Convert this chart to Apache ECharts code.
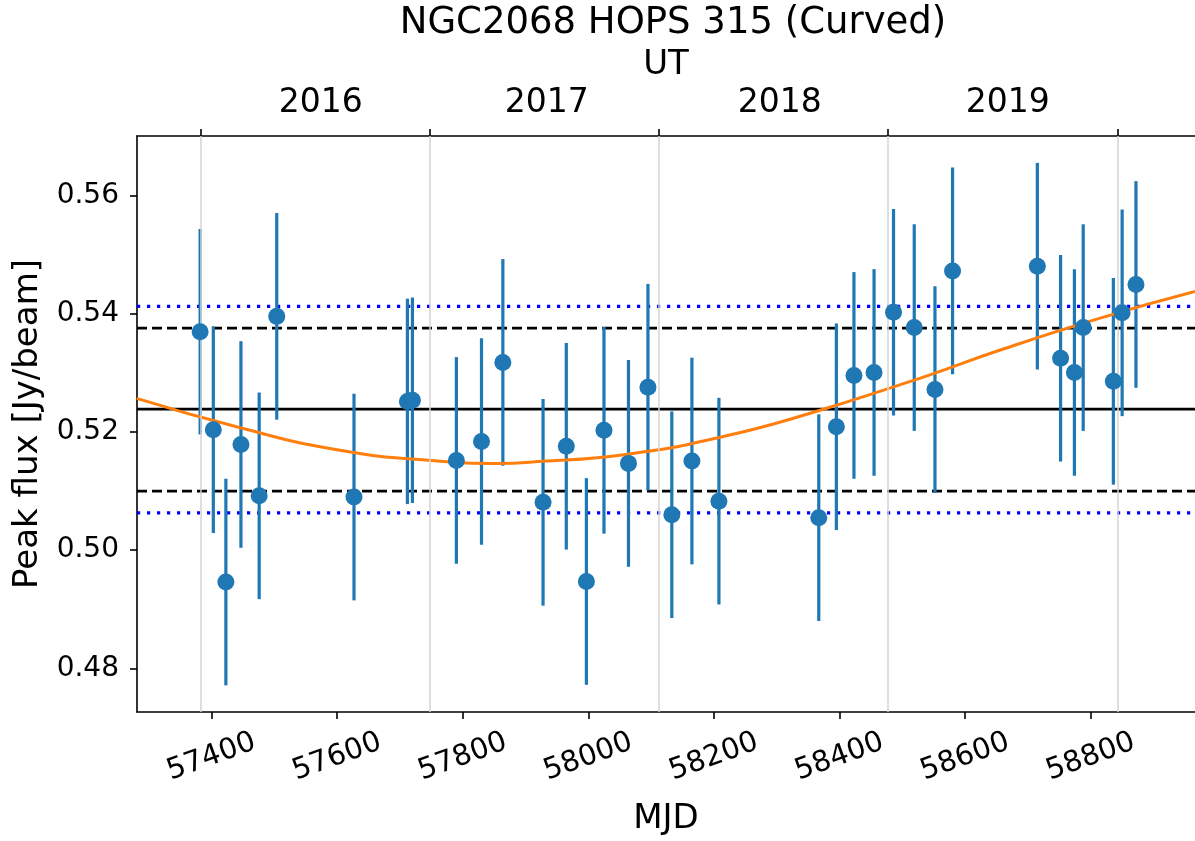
<!DOCTYPE html>
<html>
<head>
<meta charset="utf-8">
<script src="https://cdn.jsdelivr.net/npm/echarts@6/dist/echarts.min.js"></script>
<style>
html,body{margin:0;padding:0;background:#fff;}
#chart{width:1195px;height:841px;}
</style>
</head>
<body>
<div id="chart"></div>
<script>
// ---- data ----
const mjd = [57382, 57403, 57423, 57447, 57476, 57504, 57627, 57712, 57720, 57790, 57830, 57864, 57928, 57965, 57997, 58025, 58064, 58095, 58133, 58165, 58208, 58367, 58395, 58423, 58455, 58486, 58519, 58552, 58580, 58715, 58752, 58774, 58788, 58836, 58850, 58872];
const peakFlux = [0.5370, 0.5204, 0.4946, 0.5179, 0.5092, 0.5396, 0.5090, 0.5252, 0.5254, 0.5152, 0.5184, 0.5318, 0.5081, 0.5176, 0.4947, 0.5203, 0.5147, 0.5276, 0.5060, 0.5151, 0.5083, 0.5055, 0.5209, 0.5296, 0.5301, 0.5403, 0.5377, 0.5272, 0.5473, 0.5481, 0.5325, 0.5301, 0.5377, 0.5286, 0.5402, 0.5450];
const fluxErr = [0.0174, 0.0175, 0.0175, 0.0175, 0.0175, 0.0175, 0.0175, 0.0174, 0.0174, 0.0175, 0.0175, 0.0175, 0.0175, 0.0175, 0.0175, 0.0175, 0.0175, 0.0175, 0.0175, 0.0175, 0.0175, 0.0175, 0.0175, 0.0175, 0.0175, 0.0175, 0.0175, 0.0175, 0.0175, 0.0175, 0.0175, 0.0175, 0.0175, 0.0175, 0.0175, 0.0175];

// fitted curve
const curveMjd = [57281, 57440, 57600, 57759, 57854, 57907, 58066, 58225, 58369, 58496, 58544, 58656, 58815, 58966];
const curveFlux = [0.5257, 0.5209, 0.5170, 0.5151, 0.5147, 0.5149, 0.5163, 0.5195, 0.5237, 0.5280, 0.5297, 0.5339, 0.5393, 0.5438];

// reference levels
const meanFlux = 0.5239;
const dashedLevels = [0.5376, 0.5100];
const dottedLevels = [0.5413, 0.5063];

// axes
const xMin = 57281.5, xMax = 58966;
const yMin = 0.47259, yMax = 0.57015;
const mjdTicks = [57400, 57600, 57800, 58000, 58200, 58400, 58600, 58800];
const fluxTicks = [0.48, 0.50, 0.52, 0.54, 0.56];
const yearBoundaries = [57382.5, 57747.7, 58112.6, 58477.4, 58842.5];
const yearLabelPos = [57574, 57934, 58305, 58668];
const yearLabels = ['2016', '2017', '2018', '2019'];

const FONT = 'DejaVu Sans';
const chart = echarts.init(document.getElementById('chart'), null, {renderer: 'canvas'});

function hline(v, style, z) {
  return {
    type: 'line', xAxisIndex: 0, yAxisIndex: 0, z: z,
    data: [[xMin, v], [xMax, v]], showSymbol: false, symbol: 'none',
    lineStyle: style, silent: true, animation: false
  };
}

const series = [];
// year grid lines
series.push({
  type: 'line', data: [], xAxisIndex: 0, yAxisIndex: 0, z: 1, silent: true,
  markLine: {
    symbol: 'none', silent: true, label: {show: false}, animation: false,
    lineStyle: {color: '#d4d4d4', width: 1.5, type: 'solid'},
    data: yearBoundaries.map(v => ({xAxis: v}))
  }
});
series.push(hline(meanFlux, {color: '#000', width: 2.8, type: 'solid'}, 2));
dashedLevels.forEach(v => series.push(hline(v, {color: '#000', width: 2.8, type: [10, 5]}, 2)));
dottedLevels.forEach(v => series.push(hline(v, {color: '#0000ff', width: 3.2, type: [3.2, 6.8]}, 2)));
// error bars
series.push({
  type: 'custom', z: 3, animation: false, silent: true,
  data: mjd.map((m, i) => [m, peakFlux[i], fluxErr[i]]),
  renderItem: function (params, api) {
    const x = api.value(0), y = api.value(1), e = api.value(2);
    const p1 = api.coord([x, y - e]);
    const p2 = api.coord([x, y + e]);
    return {type: 'line', shape: {x1: p1[0], y1: p1[1], x2: p2[0], y2: p2[1]},
      style: {stroke: '#1f77b4', lineWidth: 3.2}};
  }
});
// fitted curve
series.push({
  type: 'line', z: 4, smooth: true, showSymbol: false, symbol: 'none', animation: false,
  data: curveMjd.map((m, i) => [m, curveFlux[i]]),
  lineStyle: {color: '#ff7f0e', width: 3}
});
// points
series.push({
  type: 'scatter', z: 5, animation: false,
  data: mjd.map((m, i) => [m, peakFlux[i]]),
  symbolSize: 17, itemStyle: {color: '#1f77b4', opacity: 1}
});

chart.setOption({
  animation: false,
  backgroundColor: '#fff',
  textStyle: {fontFamily: FONT},
  title: {
    text: 'NGC2068 HOPS 315 (Curved)', left: 668, top: 0, textAlign: 'center',
    textStyle: {fontFamily: FONT, fontSize: 37, fontWeight: 'normal', color: '#000'}
  },
  grid: {left: 137, right: 0, top: 136, bottom: 122, containLabel: false},
  xAxis: [
    {
      type: 'value', position: 'bottom', min: xMin, max: xMax,
      name: 'MJD', nameLocation: 'middle', nameGap: 90,
      nameTextStyle: {fontFamily: FONT, fontSize: 34, color: '#000', verticalAlign: 'top'},
      axisLine: {show: true, lineStyle: {color: '#000', width: 1.6}},
      axisTick: {show: true, length: 7, inside: false, customValues: mjdTicks, lineStyle: {color: '#000', width: 1.6}},
      axisLabel: {show: true, customValues: mjdTicks, rotate: 20, margin: 45, align: 'center', verticalAlign: 'middle',
        fontFamily: FONT, fontSize: 29, color: '#000', formatter: v => String(v)},
      splitLine: {show: false}
    },
    {
      type: 'value', position: 'top', min: xMin, max: xMax,
      name: 'UT', nameLocation: 'middle', nameGap: 54,
      nameTextStyle: {fontFamily: FONT, fontSize: 34, color: '#000', verticalAlign: 'bottom'},
      axisLine: {show: true, lineStyle: {color: '#000', width: 1.6}},
      axisTick: {show: true, length: 7, inside: false, customValues: yearBoundaries, lineStyle: {color: '#000', width: 1.6}},
      axisLabel: {show: true, customValues: yearLabelPos, margin: 16, fontFamily: FONT, fontSize: 33, color: '#000',
        formatter: v => { const i = yearLabelPos.indexOf(v); return i >= 0 ? yearLabels[i] : ''; }},
      splitLine: {show: false}
    }
  ],
  yAxis: {
    type: 'value', min: yMin, max: yMax,
    name: 'Peak flux [Jy/beam]', nameLocation: 'middle', nameGap: 92,
    nameTextStyle: {fontFamily: FONT, fontSize: 34, color: '#000'},
    axisLine: {show: true, lineStyle: {color: '#000', width: 1.6}},
    axisTick: {show: true, length: 7, inside: false, customValues: fluxTicks, lineStyle: {color: '#000', width: 1.6}},
    axisLabel: {show: true, customValues: fluxTicks, margin: 18, fontFamily: FONT, fontSize: 28, color: '#000',
      formatter: v => v.toFixed(2)},
    splitLine: {show: false}
  },
  series: series
});
</script>
</body>
</html>
